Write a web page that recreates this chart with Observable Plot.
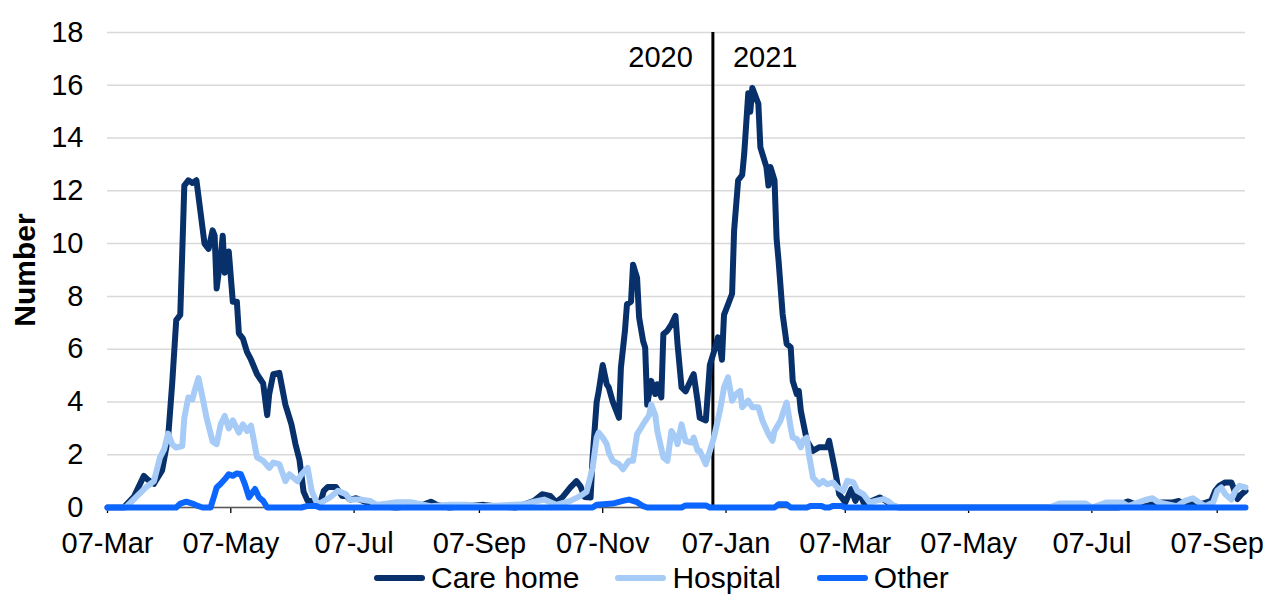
<!DOCTYPE html>
<html>
<head>
<meta charset="utf-8">
<script src="https://cdn.jsdelivr.net/npm/d3@7"></script>
<script src="https://cdn.jsdelivr.net/npm/@observablehq/plot@0.6"></script>
<style>
  html, body { margin: 0; padding: 0; background: #fff; }
  body { width: 1267px; height: 596px; overflow: hidden; font-family: "Liberation Sans", Arial, sans-serif; }
  #legend { display: flex; align-items: center; height: 36px; line-height: 36px; margin-left: 374px; font-size: 30px; color: #000; }
  .item { display: flex; align-items: center; margin-right: 36px; }
  .sw { width: 51px; height: 6px; border-radius: 3px; margin-right: 6px; }
</style>
</head>
<body>
<div id="chart"></div>
<div id="legend"></div>
<script>
// Series names and colours
const seriesNames = ["Care home", "Hospital", "Other"];
const seriesColors = ["#08306b", "#a6cbf7", "#0a66ff"];

// x values are day offsets from 07-Mar-2020
const startDate = "2020-03-07";
const lastDay = 563;

const careDay = [0, 8, 13, 18, 20, 23, 27, 30, 32, 34, 36, 37, 38, 40, 42, 44, 46, 48, 50, 52, 53, 54, 56, 57, 58, 60, 62, 64, 65, 67, 69, 71, 74, 77, 79, 80, 82, 85, 88, 91, 93, 95, 97, 99, 101, 105, 107, 109, 113, 116, 118, 120, 123, 128, 133, 143, 156, 160, 163, 169, 186, 192, 202, 211, 215, 219, 222, 225, 229, 232, 234, 236, 239, 240, 242, 243, 245, 247, 248, 250, 253, 254, 256, 257, 259, 260, 262, 263, 265, 266, 267, 269, 271, 272, 274, 275, 277, 279, 281, 282, 284, 286, 289, 290, 292, 293, 296, 298, 300, 302, 303, 304, 305, 307, 309, 310, 312, 314, 315, 317, 318, 319, 320, 322, 323, 326, 327, 328, 330, 331, 332, 334, 336, 338, 339, 341, 342, 343, 346, 349, 352, 356, 357, 360, 362, 365, 368, 370, 372, 374, 378, 382, 385, 388, 392, 500, 502, 505, 509, 514, 518, 522, 527, 530, 533, 537, 539, 542, 546, 548, 550, 553, 556, 557, 559, 561, 563];
const careValue = [0, 0, 0.4, 1.2, 1.05, 0.9, 1.4, 2.65, 4.7, 7.1, 7.3, 9.7, 12.2, 12.4, 12.3, 12.4, 11.2, 10.0, 9.8, 10.5, 10.3, 8.3, 9.5, 10.3, 8.9, 9.7, 7.8, 7.8, 6.6, 6.4, 5.9, 5.6, 5.05, 4.7, 3.5, 4.3, 5.05, 5.1, 3.9, 3.15, 2.4, 1.8, 0.6, 0.25, 0.25, 0.1, 0.63, 0.78, 0.78, 0.44, 0.44, 0.3, 0.35, 0.2, 0.06, 0, 0.1, 0.22, 0.1, 0, 0.1, 0.05, 0, 0.25, 0.5, 0.44, 0.2, 0.38, 0.76, 1.0, 0.8, 0.4, 0.38, 1.9, 4.0, 4.4, 5.4, 4.67, 4.55, 4.0, 3.4, 5.3, 6.7, 7.7, 7.8, 9.2, 8.7, 7.2, 6.3, 6.06, 3.9, 4.8, 4.3, 4.67, 4.17, 6.57, 6.7, 6.94, 7.26, 6.2, 4.55, 4.4, 4.9, 5.05, 4.0, 3.4, 3.3, 5.4, 5.9, 6.45, 6.07, 5.6, 7.3, 7.7, 8.1, 10.5, 12.4, 12.6, 13.4, 15.7, 15.0, 15.9, 15.7, 15.3, 13.65, 12.9, 12.2, 12.9, 12.4, 10.2, 9.35, 7.33, 6.2, 6.07, 4.8, 4.3, 4.42, 3.67, 2.53, 2.15, 2.28, 2.28, 2.53, 1.39, 0.5, 0.19, 0.7, 0.25, 0.57, 0.19, 0.25, 0.38, 0.25, 0.06, 0, 0, 0.15, 0.23, 0.1, 0.05, 0.15, 0.19, 0.19, 0.25, 0.1, 0.19, 0.1, 0.15, 0.25, 0.63, 0.82, 0.95, 0.95, 0.76, 0.32, 0.5, 0.63];

const hospDay = [0, 9, 14, 19, 23, 26, 28, 30, 32, 34, 37, 38, 40, 42, 43, 45, 47, 49, 52, 54, 56, 58, 60, 62, 65, 67, 69, 71, 74, 77, 80, 82, 85, 88, 90, 94, 96, 99, 101, 104, 106, 110, 114, 118, 120, 125, 130, 133, 143, 150, 160, 169, 178, 186, 206, 211, 216, 222, 229, 234, 237, 240, 242, 243, 245, 247, 248, 250, 253, 255, 258, 260, 262, 263, 266, 268, 269, 271, 272, 275, 277, 279, 281, 282, 284, 286, 289, 290, 292, 293, 296, 298, 300, 303, 305, 307, 309, 311, 313, 314, 317, 319, 322, 324, 327, 329, 330, 333, 334, 336, 338, 339, 341, 343, 344, 346, 347, 349, 352, 354, 356, 359, 361, 364, 366, 369, 371, 374, 377, 380, 384, 386, 389, 392, 466, 471, 484, 487, 494, 502, 505, 514, 517, 520, 529, 533, 537, 540, 543, 547, 549, 551, 553, 556, 558, 560, 563];
const hospValue = [0, 0, 0.38, 0.76, 1.0, 1.9, 2.2, 2.8, 2.4, 2.27, 2.33, 3.4, 4.17, 4.1, 4.4, 4.9, 4.17, 3.4, 2.5, 2.4, 3.15, 3.47, 3.0, 3.3, 2.84, 3.15, 2.9, 3.1, 1.9, 1.77, 1.5, 1.7, 1.64, 1.0, 1.26, 1.0, 1.26, 1.5, 0.63, 0.1, 0.2, 0.38, 0.63, 0.5, 0.3, 0.3, 0.25, 0.1, 0.2, 0.2, 0.05, 0.1, 0.1, 0.05, 0.12, 0.22, 0.3, 0.1, 0.25, 0.44, 0.6, 1.5, 2.65, 2.84, 2.65, 2.4, 2.08, 1.77, 1.64, 1.45, 1.77, 1.77, 2.78, 2.9, 3.28, 3.5, 3.9, 3.5, 2.9, 1.9, 1.77, 2.9, 2.65, 2.4, 3.15, 2.52, 2.46, 2.65, 2.15, 2.15, 1.64, 2.15, 2.65, 3.67, 4.55, 4.93, 4.05, 4.3, 4.42, 3.8, 4.05, 3.8, 3.8, 3.3, 2.78, 2.53, 2.9, 3.3, 3.54, 3.98, 3.03, 2.65, 2.59, 2.28, 2.53, 2.65, 2.02, 1.14, 0.88, 1.01, 0.88, 0.95, 0.76, 0.63, 1.01, 0.95, 0.63, 0.5, 0.19, 0.25, 0.32, 0.25, 0.06, 0, 0, 0.15, 0.15, 0, 0.19, 0.19, 0.05, 0.3, 0.35, 0.19, 0.05, 0.25, 0.35, 0.19, 0.05, 0.19, 0.63, 0.76, 0.5, 0.3, 0.63, 0.82, 0.76];

const otherDay = [0, 34, 36, 39, 42, 45, 47, 51, 53, 54, 56, 58, 60, 62, 64, 66, 68, 70, 71, 73, 75, 77, 79, 96, 99, 103, 105, 240, 242, 250, 255, 258, 262, 265, 267, 284, 286, 296, 298, 330, 332, 336, 338, 346, 348, 353, 355, 357, 359, 363, 365, 563];
const otherValue = [0, 0, 0.15, 0.22, 0.15, 0.05, 0, 0, 0.5, 0.76, 0.9, 1.07, 1.26, 1.2, 1.29, 1.26, 0.88, 0.38, 0.5, 0.7, 0.38, 0.25, 0, 0, 0.06, 0.06, 0, 0, 0.1, 0.15, 0.25, 0.3, 0.2, 0.05, 0, 0, 0.08, 0.08, 0, 0, 0.12, 0.12, 0, 0, 0.06, 0.06, 0, 0, 0.06, 0.06, 0, 0];

// Axis ticks
const xTickDates = ["2020-03-07", "2020-05-07", "2020-07-07", "2020-09-07", "2020-11-07", "2021-01-07", "2021-03-07", "2021-05-07", "2021-07-07", "2021-09-07"];
const yTicks = [0, 2, 4, 6, 8, 10, 12, 14, 16, 18];
const yearBoundaryDate = "2020-12-31T12:00";
const yearLabels = ["2020", "2021"];

const start = new Date(startDate + "T00:00Z");
const toDate = d => d3.utcDay.offset(start, d);
const build = (days, vals, name) => days.map((d, i) => ({date: toDate(d), value: vals[i], series: name}));
const data = [
  ...build(careDay, careValue, seriesNames[0]),
  ...build(hospDay, hospValue, seriesNames[1]),
  ...build(otherDay, otherValue, seriesNames[2])
];
const xTicks = xTickDates.map(s => new Date(s + "T00:00Z"));
const boundary = new Date(yearBoundaryDate + "Z");

const chart = Plot.plot({
  width: 1267,
  height: 560,
  marginLeft: 107,
  marginRight: 22,
  marginTop: 32,
  marginBottom: 53,
  style: {fontFamily: "'Liberation Sans', Arial, sans-serif", fontSize: "29px", color: "#000", background: "#fff", overflow: "visible"},
  x: {type: "utc", domain: [start, toDate(lastDay)]},
  y: {domain: [0, 18]},
  color: {domain: seriesNames, range: seriesColors},
  marks: [
    Plot.gridY(yTicks, {stroke: "#d9d9d9", strokeOpacity: 1, strokeWidth: 1.5}),
    Plot.axisY(yTicks, {tickSize: 0, tickPadding: 24, label: null, fontSize: 29, fill: "#000"}),
    Plot.axisX(xTicks, {tickSize: 6, tickPadding: 19, tickFormat: d3.utcFormat("%d-%b"), label: null, fontSize: 29, stroke: "#000", fill: "#000", strokeWidth: 1.3}),
    Plot.ruleY([0], {stroke: "#595959", strokeWidth: 1.3}),
    Plot.ruleX([boundary], {stroke: "#000", strokeWidth: 3}),
    Plot.text([yearLabels[0]], {x: () => boundary, frameAnchor: "top", dy: 25, dx: -20, textAnchor: "end", lineAnchor: "middle", fontSize: 29, fill: "#000"}),
    Plot.text([yearLabels[1]], {x: () => boundary, frameAnchor: "top", dy: 25, dx: 20, textAnchor: "start", lineAnchor: "middle", fontSize: 29, fill: "#000"}),
    Plot.lineY(data, {x: "date", y: "value", stroke: "series", z: "series", strokeWidth: 6, strokeLinejoin: "round", strokeLinecap: "round"}),
    Plot.text(["Number"], {frameAnchor: "left", dx: -82, rotate: -90, textAnchor: "middle", lineAnchor: "middle", fontWeight: "bold", fontSize: 30, fill: "#000"})
  ]
});
document.getElementById("chart").appendChild(chart);

const legend = document.getElementById("legend");
seriesNames.forEach((name, i) => {
  const item = document.createElement("div");
  item.className = "item";
  const sw = document.createElement("div");
  sw.className = "sw";
  sw.style.background = seriesColors[i];
  const label = document.createElement("span");
  label.textContent = name;
  item.appendChild(sw);
  item.appendChild(label);
  legend.appendChild(item);
});
</script>
</body>
</html>
